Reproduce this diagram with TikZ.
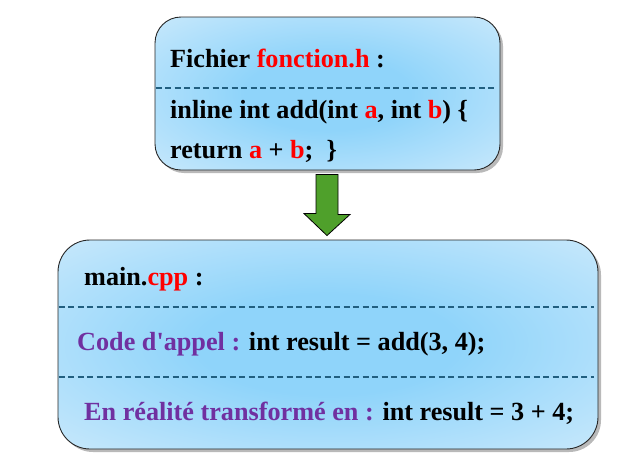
\documentclass[tikz,border=0pt]{standalone}
\usepackage{fontspec}
\setmainfont{Liberation Serif}
\newfontfamily\tnr{Liberation Serif}
\usetikzlibrary{shadows,calc}
\definecolor{cin}{HTML}{8FD4FA}
\definecolor{cout}{HTML}{DBEFFC}
\definecolor{divc}{HTML}{215F80}
\definecolor{vio}{HTML}{7030A0}
\definecolor{arrowgreen}{HTML}{4FA02B}
\pgfdeclareradialshading{boxshade}{\pgfpoint{0bp}{0bp}}{color(0bp)=(cin); color(12bp)=(cin); color(44bp)=(cout); color(50bp)=(cout)}
\newcommand\apos{\XeTeXglyph\XeTeXcharglyph"0027\relax}
\begin{document}
\begin{tikzpicture}[x=1pt,y=-1pt,
  panel/.style={draw=black!85, line width=0.9pt, shade, shading=boxshade,
    drop shadow={shadow xshift=3pt, shadow yshift=-3pt, fill=black!50, opacity=0.55},
    inner sep=0pt},
  txt/.style={anchor=base west, font=\tnr\bfseries\fontsize{26.2}{30}\selectfont, inner sep=0pt},
  divider/.style={draw=divc, line width=1.8pt, dash pattern=on 6pt off 3.5pt},
  bigarrow/.style={draw=black, line width=0.8pt, fill=arrowgreen, line join=miter}]
\useasboundingbox (0,0) rectangle (628,469);
% boxes
\node[panel, rounded corners=26pt, minimum width=345pt, minimum height=153pt] (top) at (327.5,93.5) {};
\node[panel, rounded corners=32pt, minimum width=540pt, minimum height=209pt] (bottom) at (328,344.5) {};
% dividers
\coordinate (t1a) at (155.5,88); \coordinate (t1b) at (495,88);
\coordinate (b1a) at (58.5,307); \coordinate (b1b) at (594,307);
\coordinate (b2a) at (58.5,377); \coordinate (b2b) at (594,377);
\draw[divider] (t1a) -- (t1b);
\draw[divider] (b1a) -- (b1b);
\draw[divider] (b2a) -- (b2b);
% texts
\node[txt] (tl1) at (170,67) {Fichier \textcolor{red}{fonction.h} :};
\node[txt] (tl2) at (170,118) {inline int add(int \textcolor{red}{a}, int \textcolor{red}{b}) \{};
\node[txt] (tl3) at (170,158) {return \textcolor{red}{a} + \textcolor{red}{b};\ \ \}};
\node[txt] (bl1) at (84,285) {main.\textcolor{red}{cpp} :};
\node[txt] (bl2) at (77,350) {\textcolor{vio}{Code d\apos appel :} int result = add(3, 4);};
\node[txt] (bl3) at (84,420) {\textcolor{vio}{En réalité transformé\ en :} int result = 3 + 4;};
% arrow
\draw[bigarrow] ($(top.south)+(-11.5,4)$) -- ++(22,0) -- ++(0,40) -- ++(12,0)
  -- ($(bottom.north)+(-1,-4)$) -- ++(-23,-22) -- ++(12,0) -- cycle;
\end{tikzpicture}
\end{document}
